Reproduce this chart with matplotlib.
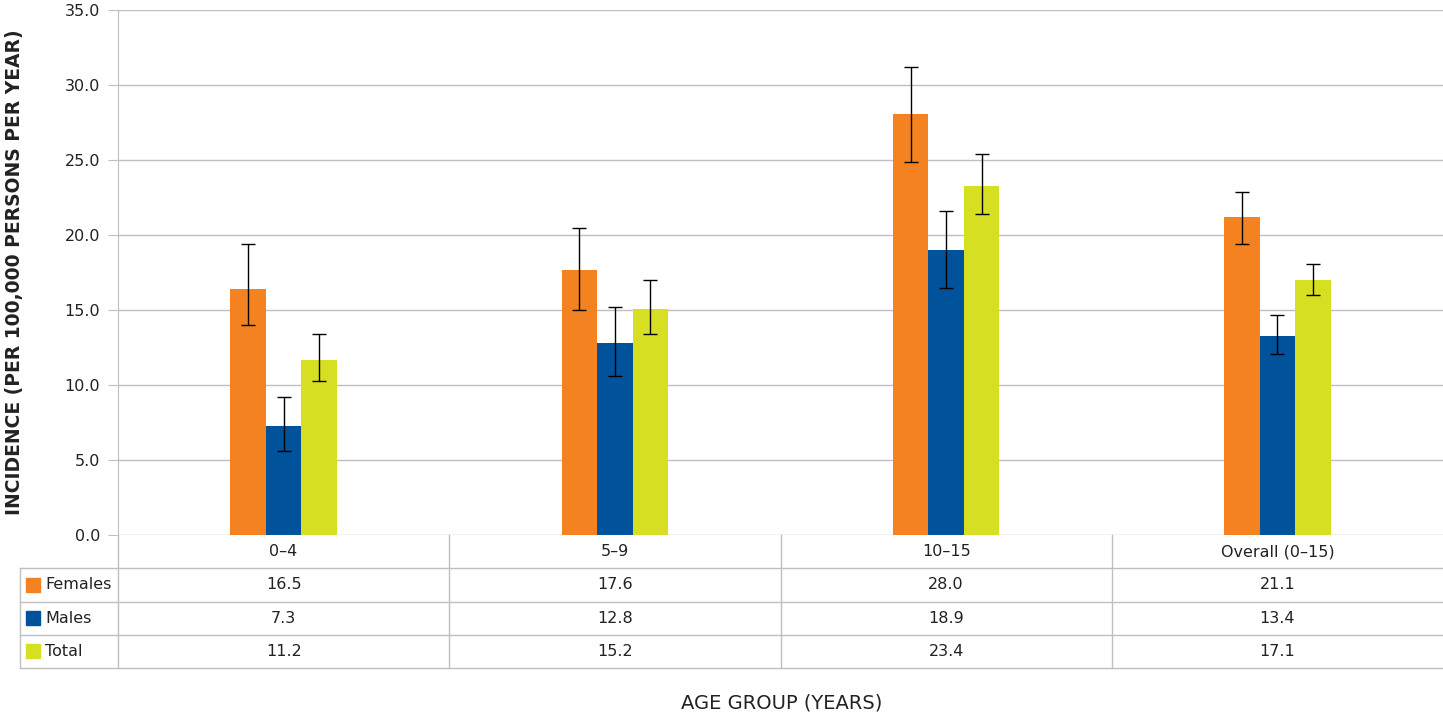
import matplotlib.pyplot as plt
import numpy as np

plt.rcParams['font.family'] = ['DejaVu Sans']

# Datos
grupos = ['0–4', '5–9', '10–15', 'Overall (0–15)']
series = ['Females', 'Males', 'Total']
colores = ['#F58220', '#00529B', '#D7DF23']

# alturas de barra tal como están dibujadas
mujeres = [16.4, 17.7, 28.1, 21.2]
hombres = [7.3, 12.8, 19.0, 13.3]
total = [11.7, 15.1, 23.3, 17.0]

# intervalos de confianza (inferior / superior)
mujeres_ic_inf = [14.0, 15.0, 24.9, 19.4]
mujeres_ic_sup = [19.4, 20.5, 31.2, 22.9]
hombres_ic_inf = [5.6, 10.6, 16.5, 12.1]
hombres_ic_sup = [9.2, 15.2, 21.6, 14.7]
total_ic_inf = [10.3, 13.4, 21.4, 16.0]
total_ic_sup = [13.4, 17.0, 25.4, 18.1]

# valores impresos en la tabla
tabla_mujeres = ['16.5', '17.6', '28.0', '21.1']
tabla_hombres = ['7.3', '12.8', '18.9', '13.4']
tabla_total = ['11.2', '15.2', '23.4', '17.1']

W, H = 1443, 716
fig = plt.figure(figsize=(W / 100, H / 100), dpi=100)
ax = fig.add_axes([118 / W, 1 - 535 / H, (W - 118) / W, 525 / H])

gris = '#BFBFBF'
texto = '#222222'
x = np.arange(len(grupos))
ancho = 0.107
valores = [mujeres, hombres, total]
inf = [mujeres_ic_inf, hombres_ic_inf, total_ic_inf]
sup = [mujeres_ic_sup, hombres_ic_sup, total_ic_sup]

for i in range(3):
    pos = x + (i - 1) * ancho
    v = np.array(valores[i])
    err = [v - np.array(inf[i]), np.array(sup[i]) - v]
    ax.bar(pos, v, width=ancho, color=colores[i], zorder=2)
    ax.errorbar(pos, v, yerr=err, fmt='none', ecolor='black', elinewidth=1,
                capsize=4.7, capthick=1, zorder=3)

ax.set_xlim(-0.5, 3.5)
ax.set_ylim(0, 35)
ticks = np.arange(0, 35.1, 5)
ax.set_yticks(ticks)
ax.set_yticklabels([f'{t:.1f}' for t in ticks], fontsize=11.5, color=texto)
ax.set_xticks([])
ax.yaxis.grid(True, color=gris, linewidth=1, zorder=0)
ax.set_axisbelow(True)
for s in ['top', 'right', 'bottom']:
    ax.spines[s].set_visible(False)
ax.spines['left'].set_color(gris)
ax.tick_params(axis='y', length=7, color=gris, pad=6)

# Tabla de datos debajo
tax = fig.add_axes([20 / W, 1 - 668 / H, (W - 20) / W, 133 / H])
x0 = -0.5 - 98 / 331.25
tax.set_xlim(x0, 3.5)
tax.set_ylim(0, 4)
tax.axis('off')
for yy in [0, 1, 2, 3]:
    tax.plot([x0, 3.5], [yy, yy], color=gris, lw=1, clip_on=False)
tax.plot([x0, x0], [0, 3], color=gris, lw=1, clip_on=False)
for xx in [-0.5, 0.5, 1.5, 2.5]:
    tax.plot([xx, xx], [0, 4], color=gris, lw=1, clip_on=False)

for j, g in enumerate(grupos):
    tax.text(j, 3.5, g, ha='center', va='center', fontsize=11.5, color=texto)
filas = [tabla_mujeres, tabla_hombres, tabla_total]
for i, fila in enumerate(filas):
    yc = 2.5 - i
    for j, t in enumerate(fila):
        tax.text(j, yc, t, ha='center', va='center', fontsize=11.5, color=texto)
    tax.add_patch(plt.Rectangle((x0 + 6 / 331.25, yc - 0.21), 14 / 331.25, 0.42,
                                color=colores[i], clip_on=False))
    tax.text(x0 + 25 / 331.25, yc, series[i], ha='left', va='center', fontsize=11.5,
             color=texto)

fig.text(15 / W, 1 - 272 / H, 'INCIDENCE (PER 100,000 PERSONS PER YEAR)', rotation=90,
         ha='center', va='center', fontsize=13.5, fontweight='bold', color=texto)
fig.text(782 / W, 1 - 703 / H, 'AGE GROUP (YEARS)', ha='center', va='center',
         fontsize=14, color=texto)

plt.savefig('out.png', dpi=100)
